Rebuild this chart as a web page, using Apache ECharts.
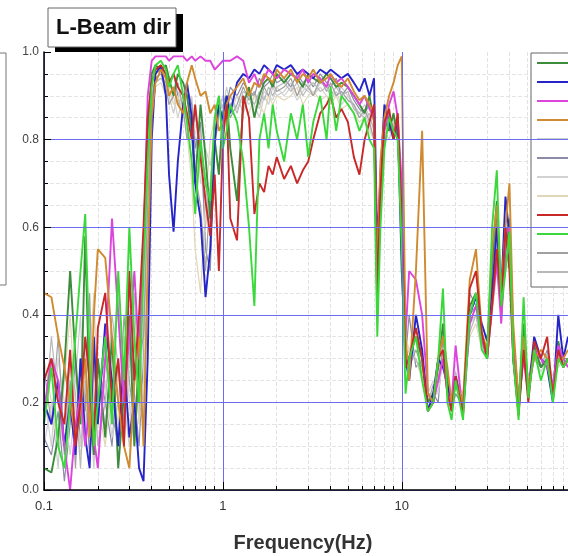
<!DOCTYPE html>
<html>
<head>
<meta charset="utf-8">
<script src="https://cdn.jsdelivr.net/npm/echarts@6/dist/echarts.min.js"></script>
<style>
  html, body { margin: 0; padding: 0; background: #fff; }
  #chart { width: 568px; height: 556px; }
</style>
</head>
<body>
<div id="chart"></div>
<script>
// frequency points (Hz)
var freq = [0.1, 0.11, 0.12, 0.13, 0.14, 0.15, 0.16, 0.17, 0.18, 0.19, 0.2,
  0.22, 0.24, 0.26, 0.28, 0.3, 0.32, 0.34, 0.36, 0.38, 0.4, 0.42,
  0.45, 0.48, 0.5, 0.53, 0.56, 0.6, 0.63, 0.67, 0.7, 0.75, 0.8, 0.85, 0.9, 0.95, 1.0,
  1.05, 1.1, 1.2, 1.3, 1.4, 1.5, 1.6, 1.7, 1.8, 1.9, 2.0,
  2.2, 2.4, 2.6, 2.8, 3.0, 3.2, 3.5, 3.8, 4.0, 4.3, 4.6, 5.0, 5.4, 5.8, 6.2, 6.6,
  7.0, 7.3, 7.6, 8.0, 8.5, 9.0, 9.5,
  10, 10.5, 11, 12, 13, 14, 15, 16, 17, 18, 19, 20, 22, 24, 26, 28, 30, 32, 34, 36, 38, 40, 42,
  45, 48, 51, 55, 60, 65, 70, 75, 80, 85];

var s1 = [0.05,0.04,0.12,0.28,0.5,0.3,0.15,0.58,0.2,0.08,0.3,
  0.12,0.35,0.05,0.22,0.4,0.1,0.3,0.55,0.82,0.95,0.97,
  0.96,0.97,0.94,0.9,0.95,0.93,0.9,0.82,0.7,0.88,0.76,0.62,0.8,0.72,0.86,
  0.9,0.78,0.66,0.88,0.92,0.85,0.9,0.93,0.94,0.92,0.95,
  0.93,0.95,0.94,0.92,0.95,0.94,0.93,0.95,0.94,0.92,0.93,0.92,0.9,0.88,0.86,0.9,
  0.84,0.4,0.7,0.85,0.82,0.86,0.8,
  0.6,0.28,0.3,0.35,0.3,0.2,0.22,0.28,0.38,0.25,0.18,0.25,0.2,0.42,0.45,0.35,0.3,0.52,0.66,0.4,0.55,0.62,0.35,
  0.2,0.38,0.22,0.33,0.28,0.3,0.22,0.34,0.28,0.3];
var s2 = [0.2,0.15,0.25,0.1,0.2,0.08,0.3,0.12,0.05,0.35,0.15,
  0.38,0.25,0.1,0.3,0.12,0.2,0.05,0.02,0.3,0.8,0.95,
  0.97,0.9,0.72,0.59,0.75,0.88,0.93,0.85,0.7,0.62,0.44,0.55,0.8,0.88,0.84,
  0.9,0.86,0.93,0.95,0.94,0.96,0.95,0.97,0.96,0.95,0.97,
  0.96,0.97,0.95,0.96,0.95,0.94,0.96,0.95,0.96,0.95,0.94,0.95,0.93,0.91,0.94,0.9,
  0.94,0.55,0.72,0.88,0.84,0.8,0.85,
  0.5,0.3,0.25,0.4,0.32,0.18,0.22,0.3,0.28,0.24,0.2,0.26,0.18,0.4,0.44,0.38,0.34,0.45,0.6,0.45,0.67,0.58,0.3,
  0.18,0.32,0.22,0.35,0.3,0.28,0.2,0.4,0.3,0.35];
var s3 = [0.18,0.3,0.25,0.1,0.0,0.15,0.22,0.1,0.2,0.12,0.05,
  0.3,0.62,0.4,0.2,0.35,0.5,0.3,0.55,0.9,0.98,0.99,
  0.99,0.99,0.98,0.99,0.99,0.99,0.98,0.99,0.98,0.99,0.98,0.98,0.96,0.97,0.98,
  0.98,0.98,0.99,0.98,0.93,0.95,0.92,0.94,0.96,0.95,0.94,
  0.96,0.95,0.94,0.96,0.93,0.95,0.94,0.92,0.95,0.93,0.94,0.92,0.9,0.88,0.9,0.87,
  0.85,0.45,0.66,0.82,0.88,0.91,0.85,
  0.7,0.35,0.5,0.48,0.4,0.22,0.2,0.25,0.3,0.22,0.2,0.33,0.17,0.38,0.42,0.35,0.3,0.42,0.52,0.38,0.58,0.6,0.32,
  0.2,0.3,0.22,0.32,0.3,0.28,0.24,0.33,0.3,0.28];
var s4 = [0.45,0.44,0.35,0.28,0.2,0.12,0.18,0.3,0.12,0.4,0.55,
  0.53,0.35,0.2,0.1,0.05,0.25,0.35,0.1,0.5,0.85,0.93,
  0.96,0.94,0.9,0.92,0.88,0.86,0.93,0.97,0.94,0.9,0.91,0.86,0.88,0.82,0.84,
  0.88,0.9,0.92,0.94,0.9,0.93,0.92,0.95,0.94,0.93,0.96,
  0.94,0.96,0.93,0.95,0.94,0.96,0.93,0.94,0.95,0.93,0.92,0.94,0.91,0.89,0.9,0.88,
  0.86,0.5,0.75,0.85,0.9,0.93,0.97,
  0.99,0.35,0.25,0.5,0.82,0.22,0.2,0.3,0.35,0.28,0.2,0.25,0.2,0.48,0.55,0.36,0.32,0.55,0.65,0.45,0.6,0.7,0.38,
  0.2,0.35,0.24,0.3,0.32,0.3,0.22,0.3,0.3,0.32];
var s5 = [0.1,0.2,0.05,0.3,0.15,0.25,0.4,0.1,0.2,0.05,0.25,
  0.15,0.3,0.45,0.2,0.1,0.35,0.15,0.4,0.7,0.9,0.94,
  0.95,0.93,0.9,0.86,0.91,0.88,0.84,0.9,0.8,0.75,0.6,0.7,0.85,0.9,0.87,
  0.92,0.88,0.9,0.86,0.9,0.88,0.85,0.9,0.88,0.92,0.9,
  0.91,0.93,0.9,0.92,0.91,0.9,0.93,0.92,0.91,0.9,0.92,0.9,0.88,0.86,0.88,0.85,
  0.82,0.45,0.68,0.82,0.8,0.84,0.82,
  0.55,0.3,0.32,0.35,0.3,0.22,0.25,0.22,0.3,0.24,0.2,0.26,0.2,0.38,0.4,0.33,0.3,0.45,0.58,0.38,0.5,0.58,0.32,
  0.22,0.32,0.24,0.3,0.28,0.3,0.24,0.32,0.28,0.3];
var s6 = [0.12,0.08,0.18,0.02,0.15,0.3,0.1,0.22,0.08,0.18,0.3,
  0.2,0.1,0.3,0.15,0.4,0.22,0.1,0.3,0.6,0.88,0.95,
  0.96,0.95,0.92,0.95,0.9,0.85,0.92,0.88,0.78,0.84,0.55,0.5,0.78,0.86,0.9,
  0.88,0.92,0.9,0.93,0.91,0.9,0.94,0.92,0.93,0.95,0.93,
  0.94,0.92,0.95,0.93,0.94,0.92,0.95,0.93,0.92,0.94,0.9,0.92,0.89,0.87,0.86,0.88,
  0.85,0.42,0.7,0.84,0.86,0.82,0.84,
  0.58,0.3,0.4,0.28,0.3,0.2,0.22,0.2,0.35,0.25,0.18,0.22,0.19,0.45,0.42,0.35,0.32,0.5,0.62,0.45,0.6,0.58,0.3,
  0.19,0.35,0.22,0.3,0.28,0.32,0.22,0.33,0.3,0.3];
var s7 = [0.22,0.1,0.3,0.2,0.08,0.2,0.1,0.3,0.4,0.2,0.1,
  0.25,0.12,0.2,0.35,0.2,0.1,0.28,0.2,0.55,0.85,0.93,
  0.94,0.92,0.88,0.9,0.85,0.9,0.86,0.8,0.88,0.7,0.78,0.74,0.82,0.86,0.9,
  0.86,0.9,0.87,0.9,0.88,0.9,0.87,0.91,0.9,0.89,0.92,
  0.9,0.92,0.89,0.91,0.93,0.9,0.92,0.9,0.89,0.91,0.88,0.9,0.87,0.85,0.86,0.83,
  0.8,0.48,0.72,0.83,0.82,0.8,0.83,
  0.6,0.32,0.3,0.35,0.28,0.2,0.22,0.22,0.3,0.22,0.2,0.25,0.2,0.38,0.4,0.33,0.3,0.4,0.55,0.4,0.52,0.55,0.32,
  0.22,0.3,0.26,0.3,0.27,0.3,0.25,0.3,0.28,0.3];
var s8 = [0.3,0.2,0.1,0.25,0.4,0.18,0.08,0.15,0.3,0.45,0.2,
  0.1,0.25,0.15,0.3,0.5,0.3,0.15,0.25,0.6,0.86,0.92,
  0.93,0.9,0.92,0.88,0.9,0.86,0.82,0.7,0.55,0.45,0.65,0.8,0.85,0.88,0.84,
  0.88,0.86,0.9,0.88,0.86,0.9,0.88,0.86,0.9,0.88,0.9,
  0.89,0.9,0.92,0.88,0.9,0.91,0.89,0.9,0.88,0.9,0.87,0.88,0.86,0.84,0.85,0.82,
  0.8,0.5,0.7,0.8,0.84,0.82,0.86,
  0.62,0.35,0.32,0.3,0.25,0.22,0.2,0.28,0.3,0.22,0.2,0.25,0.22,0.35,0.38,0.32,0.3,0.4,0.5,0.42,0.5,0.52,0.3,
  0.22,0.3,0.26,0.32,0.28,0.3,0.26,0.28,0.3,0.28];
var s9 = [0.25,0.3,0.2,0.15,0.32,0.1,0.2,0.35,0.25,0.1,0.37,
  0.45,0.2,0.3,0.1,0.5,0.25,0.4,0.6,0.85,0.93,0.96,
  0.97,0.95,0.93,0.95,0.92,0.9,0.86,0.8,0.88,0.76,0.66,0.58,0.72,0.5,0.8,
  0.88,0.62,0.57,0.9,0.85,0.63,0.7,0.68,0.74,0.72,0.76,
  0.71,0.74,0.7,0.73,0.75,0.8,0.86,0.88,0.9,0.85,0.87,0.84,0.76,0.72,0.8,0.84,
  0.88,0.45,0.68,0.84,0.87,0.8,0.86,
  0.62,0.28,0.3,0.37,0.3,0.18,0.2,0.3,0.32,0.22,0.18,0.26,0.17,0.46,0.5,0.36,0.3,0.42,0.55,0.42,0.6,0.5,0.3,
  0.17,0.32,0.2,0.34,0.3,0.35,0.21,0.32,0.28,0.3];
var s10 = [0.15,0.28,0.1,0.05,0.2,0.35,0.5,0.63,0.3,0.1,0.2,
  0.35,0.15,0.5,0.25,0.6,0.35,0.2,0.5,0.75,0.92,0.97,
  0.98,0.96,0.92,0.95,0.97,0.9,0.84,0.75,0.63,0.8,0.7,0.66,0.85,0.9,0.78,
  0.82,0.88,0.84,0.75,0.6,0.42,0.8,0.86,0.78,0.88,0.82,
  0.75,0.86,0.8,0.88,0.76,0.84,0.9,0.8,0.92,0.82,0.9,0.88,0.86,0.82,0.85,0.8,
  0.78,0.35,0.6,0.78,0.85,0.82,0.8,
  0.55,0.22,0.3,0.35,0.25,0.18,0.2,0.3,0.46,0.2,0.16,0.25,0.16,0.4,0.45,0.32,0.3,0.6,0.73,0.42,0.5,0.59,0.3,
  0.16,0.44,0.21,0.32,0.25,0.3,0.2,0.3,0.28,0.3];
var s11 = [0.28,0.15,0.35,0.1,0.25,0.05,0.3,0.18,0.45,0.1,0.22,
  0.3,0.18,0.1,0.4,0.25,0.15,0.3,0.35,0.65,0.88,0.94,
  0.95,0.92,0.88,0.9,0.93,0.87,0.8,0.86,0.72,0.65,0.5,0.68,0.84,0.88,0.85,
  0.9,0.85,0.88,0.92,0.89,0.91,0.88,0.92,0.9,0.93,0.91,
  0.92,0.94,0.9,0.93,0.92,0.9,0.94,0.91,0.93,0.9,0.91,0.89,0.88,0.85,0.87,0.84,
  0.8,0.4,0.65,0.82,0.85,0.83,0.82,
  0.58,0.3,0.28,0.32,0.28,0.2,0.24,0.25,0.32,0.24,0.19,0.24,0.18,0.4,0.42,0.34,0.3,0.46,0.6,0.4,0.55,0.6,0.3,
  0.2,0.34,0.23,0.31,0.28,0.3,0.23,0.33,0.3,0.29];
var s12 = [0.15,0.35,0.2,0.08,0.3,0.22,0.05,0.25,0.12,0.3,0.1,
  0.2,0.4,0.28,0.1,0.3,0.45,0.2,0.15,0.5,0.84,0.93,
  0.94,0.93,0.9,0.92,0.88,0.9,0.85,0.82,0.86,0.78,0.7,0.6,0.82,0.86,0.88,
  0.87,0.9,0.86,0.91,0.9,0.88,0.91,0.89,0.92,0.9,0.92,
  0.93,0.91,0.93,0.9,0.92,0.93,0.91,0.92,0.9,0.92,0.9,0.91,0.87,0.86,0.85,0.86,
  0.82,0.5,0.72,0.84,0.83,0.85,0.84,
  0.6,0.32,0.3,0.3,0.26,0.22,0.22,0.26,0.3,0.23,0.2,0.27,0.19,0.36,0.4,0.33,0.32,0.44,0.57,0.4,0.52,0.56,0.32,
  0.21,0.3,0.24,0.3,0.29,0.31,0.24,0.31,0.29,0.3];

var seriesNames = ['Ch1', 'Ch2', 'Ch3', 'Ch4', 'Ch5', 'Ch6', 'Ch7', 'Ch8', 'Ch9', 'Ch10', 'Ch11', 'Ch12'];
var seriesColors = ['#3c8c3c', '#2424c8', '#dd44dd', '#d08a30', '#cccccc', '#8c8ca8',
  '#d2d2d2', '#e0d6b8', '#c82828', '#3ad83a', '#a0a0a0', '#b8b8b8'];
var seriesValues = [s1, s2, s3, s4, s5, s6, s7, s8, s9, s10, s11, s12];
var grayIdx = [4, 5, 6, 7, 10, 11];

// minor grid positions
var xMinor = [0.2, 0.3, 0.4, 0.5, 0.6, 0.7, 0.8, 0.9,
  2, 3, 4, 5, 6, 7, 8, 9, 20, 30, 40, 50, 60, 70, 80];
var yMinor = [0.05, 0.1, 0.15, 0.25, 0.3, 0.35, 0.45, 0.5, 0.55,
  0.65, 0.7, 0.75, 0.85, 0.9, 0.95];

var chart = echarts.init(document.getElementById('chart'));

var series = seriesValues.map(function (vals, i) {
  var gray = grayIdx.indexOf(i) >= 0;
  return {
    name: seriesNames[i],
    type: 'line',
    xAxisIndex: 0,
    yAxisIndex: 0,
    symbol: 'none',
    z: gray ? 2 : 3,
    color: seriesColors[i],
    lineStyle: { width: gray ? 1.2 : 1.9, color: seriesColors[i] },
    data: freq.map(function (f, k) { return [f, vals[k]]; })
  };
});

chart.setOption({
  animation: false,
  backgroundColor: '#fff',
  grid: { left: 44, top: 52, right: 0, bottom: 66 },
  legend: {
    data: seriesNames,
    orient: 'vertical',
    left: 531,
    top: 53,
    icon: 'rect',
    itemWidth: 34,
    itemHeight: 2,
    itemGap: 5,
    padding: [3, 5, 8, 6],
    borderColor: '#666',
    borderWidth: 1,
    backgroundColor: '#fff',
    textStyle: { fontSize: 12, lineHeight: 14, color: '#333' }
  },
  xAxis: [{
    type: 'log',
    logBase: 10,
    min: 0.1,
    max: 85,
    z: 5,
    axisLine: { lineStyle: { color: '#000', width: 1.5 } },
    axisTick: { inside: true, length: 8, lineStyle: { color: '#000' } },
    axisLabel: {
      color: '#333', fontSize: 13, margin: 10, fontFamily: 'Liberation Sans', showMaxLabel: false,
      formatter: function (v) { return v < 1 ? v.toFixed(1) : String(Math.round(v)); }
    },
    splitLine: { show: true, lineStyle: { color: '#6c6cf0', width: 1 } }
  }, {
    type: 'log',
    logBase: 10,
    min: 0.1,
    max: 85,
    position: 'bottom',
    axisLine: { show: false },
    axisLabel: { show: false },
    axisTick: { show: true, inside: true, length: 4, customValues: xMinor, lineStyle: { color: '#000' } },
    splitLine: { show: true, lineStyle: { color: '#e2e2e2', type: 'dashed', width: 1 } }
  }],
  yAxis: [{
    type: 'value',
    min: 0,
    max: 1,
    interval: 0.2,
    z: 5,
    axisLine: { show: true, lineStyle: { color: '#000', width: 1.5 } },
    axisTick: { show: true, inside: true, length: 7, lineStyle: { color: '#000' } },
    axisLabel: {
      color: '#444', fontSize: 12, margin: 5, fontFamily: 'Liberation Sans',
      formatter: function (v) { return v.toFixed(1); }
    },
    splitLine: { show: true, showMaxLine: false, lineStyle: { color: '#6c6cf0', width: 1 } }
  }, {
    type: 'value',
    min: 0,
    max: 1,
    interval: 0.05,
    position: 'left',
    axisLine: { show: false },
    axisLabel: { show: false },
    axisTick: { show: true, inside: true, length: 4, customValues: yMinor, lineStyle: { color: '#000' } },
    splitLine: { show: true, lineStyle: { color: '#e4e4e4', type: 'dashed', width: 1 } }
  }],
  graphic: [
    // partial box at far left
    { type: 'rect', shape: { x: -40, y: 53, width: 46, height: 232 },
      style: { fill: '#fff', stroke: '#777', lineWidth: 1 } },
    // title box with shadow
    { type: 'rect', shape: { x: 55, y: 14, width: 128, height: 38 }, style: { fill: '#000' }, z: 10 },
    { type: 'rect', shape: { x: 48, y: 8, width: 128, height: 39 },
      style: { fill: '#fff', stroke: '#666', lineWidth: 1 }, z: 11 },
    { type: 'text', x: 56, y: 28, z: 12,
      style: { text: 'L-Beam dir', font: 'bold 22px "Liberation Sans"', fill: '#111', textVerticalAlign: 'middle' } },
    { type: 'text', x: 303, y: 543, z: 12,
      style: { text: 'Frequency(Hz)', font: 'bold 20px "Liberation Sans"', fill: '#333',
        textAlign: 'center', textVerticalAlign: 'middle' } }
  ],
  series: series
});
</script>
</body>
</html>
